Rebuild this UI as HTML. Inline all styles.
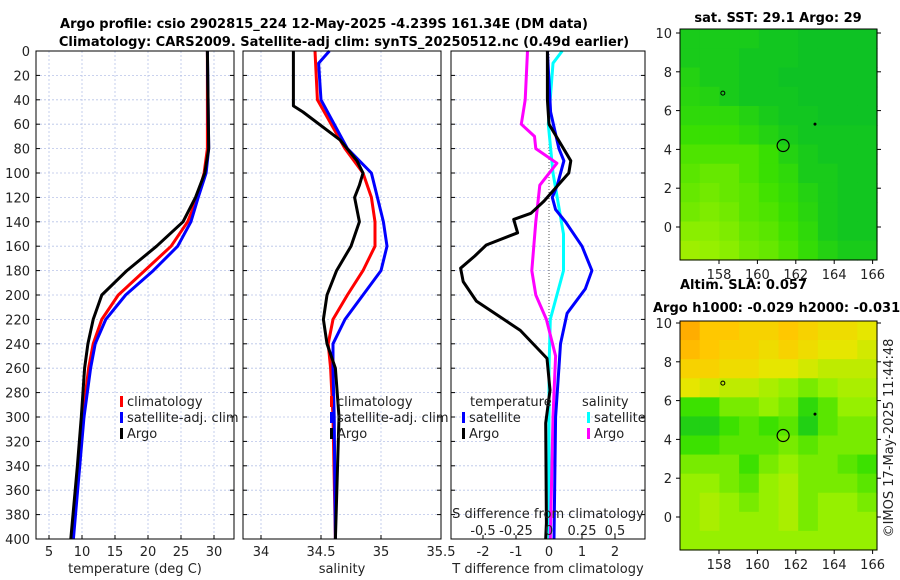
<!DOCTYPE html>
<html><head><meta charset="utf-8"><style>
body{margin:0;background:#fff;}
svg{display:block;font-family:"DejaVu Sans","Liberation Sans",sans-serif;}
</style></head><body>
<svg id="fig" width="900" height="580" viewBox="0 0 900 580" xmlns="http://www.w3.org/2000/svg">
<text x="324" y="28" text-anchor="middle" font-size="13" font-weight="bold">Argo profile: csio 2902815_224 12-May-2025 -4.239S 161.34E (DM data)</text>
<text x="344" y="46" text-anchor="middle" font-size="13" font-weight="bold">Climatology: CARS2009. Satellite-adj clim: synTS_20250512.nc (0.49d earlier)</text>
<text x="778" y="22" text-anchor="middle" font-size="13" font-weight="bold">sat. SST: 29.1 Argo: 29</text>
<text x="680" y="289" font-size="13" font-weight="bold">Altim. SLA: 0.057</text>
<text x="653" y="312" font-size="13" font-weight="bold">Argo h1000: -0.029 h2000: -0.031</text>
<text x="0" y="0" font-size="13" fill="#222" text-anchor="middle" transform="translate(893,438) rotate(-90)">©IMOS 17-May-2025 11:44:48</text>
<g id="layer"></g>
</svg>
<script>
// ---- data ----
const depthTicks = [0,20,40,60,80,100,120,140,160,180,200,220,240,260,280,300,320,340,360,380,400];
const tempTicks = [5,10,15,20,25,30];
const salTicks = [34,34.5,35,35.5];
const tdiffTicks = [-2,-1,0,1,2];
const sdiffTicks = [-0.5,-0.25,0,0.25,0.5];
const sdiffLabels = ["-0.5","-0.25","0","0.25","0.5"];

const climTDepth = [0,80,100,120,140,160,180,200,220,240,260,300,340,400];
const climT      = [29,29,28.5,27.5,26,23.5,19.5,15.5,13,11.7,11,10.1,9.4,8.5];
const satTDepth  = [0,80,100,120,140,160,180,200,220,240,260,300,400];
const satT       = [29,29.2,28.8,27.6,26.5,24.5,20.8,16.6,13.6,12,11.3,10.3,8.7];
const argoTDepth = [0,80,100,120,140,160,180,200,220,240,260,300,340,400];
const argoT      = [29,29.2,28.6,27.2,25.3,21.3,16.8,13,11.7,10.9,10.4,9.9,9.3,8.3];

const climSDepth = [0,40,80,100,120,140,160,180,200,220,240,260,300,400];
const climS      = [34.45,34.47,34.7,34.85,34.92,34.95,34.95,34.85,34.72,34.6,34.56,34.58,34.6,34.62];
const satSDepth  = [0,10,40,80,100,140,160,180,200,220,240,260,300,400];
const satS       = [34.57,34.48,34.5,34.72,34.92,35.02,35.05,35.0,34.85,34.7,34.6,34.6,34.61,34.62];
const argoSDepth = [0,45,50,73,90,100,110,120,140,160,180,200,220,240,260,300,400];
const argoS      = [34.27,34.27,34.35,34.66,34.8,34.85,34.82,34.78,34.82,34.75,34.63,34.55,34.52,34.55,34.62,34.65,34.62];

const dTArgoDepth = [0,40,60,90,100,123,133,138,149,159,168,178,189,205,229,252,278,305,387,400];
const dTArgo      = [-0.05,-0.05,0,0.66,0.6,-0.15,-0.55,-1.07,-0.95,-1.9,-2.25,-2.68,-2.6,-2.2,-0.87,-0.06,0.03,-0.1,-0.08,-0.1];
const dTSatDepth  = [0,50,80,90,110,120,130,140,160,180,195,215,240,260,300,400];
const dTSat       = [-0.05,0.05,0.3,0.45,0.25,0.1,0.2,0.5,1.0,1.3,1.1,0.55,0.35,0.3,0.2,0.15];
const dSArgoDepth = [0,40,60,70,80,92,110,140,180,200,220,250,300,400];
const dSArgo      = [-0.163,-0.18,-0.21,-0.11,-0.1,0.06,-0.07,-0.1,-0.13,-0.1,-0.02,0.05,0.03,0.01];
const dSSatDepth  = [0,10,60,100,150,180,220,260,400];
const dSSat       = [0.1,0.03,-0.005,0.03,0.11,0.11,0.01,0.0,0.0];

const sstGrid = [
[.22,.22,.22,.22,.18,.18,.14,.14,.14,.14],
[.22,.22,.22,.18,.18,.18,.14,.14,.14,.14],
[.26,.22,.22,.18,.18,.14,.14,.14,.14,.14],
[.28,.26,.22,.18,.18,.18,.14,.14,.14,.14],
[.3,.3,.3,.26,.22,.18,.18,.14,.14,.14],
[.34,.34,.34,.3,.26,.22,.18,.18,.18,.18],
[.38,.38,.38,.38,.34,.26,.22,.18,.18,.18],
[.4,.42,.42,.38,.34,.3,.22,.22,.18,.18],
[.42,.44,.42,.4,.36,.32,.26,.22,.18,.18],
[.44,.46,.44,.4,.38,.34,.28,.22,.18,.18],
[.48,.48,.46,.42,.4,.36,.3,.22,.18,.18],
[.52,.5,.48,.44,.42,.38,.32,.26,.22,.22]];
const slaGrid = [
[.95,.85,.85,.8,.8,.85,.8,.75,.75,.7],
[.9,.85,.8,.8,.75,.8,.75,.7,.7,.65],
[.8,.8,.75,.75,.7,.7,.65,.6,.6,.6],
[.7,.65,.6,.6,.55,.5,.45,.5,.55,.55],
[.35,.35,.45,.45,.5,.45,.3,.4,.5,.5],
[.25,.25,.35,.4,.35,.4,.25,.4,.45,.45],
[.35,.35,.4,.4,.4,.45,.4,.45,.45,.45],
[.45,.45,.45,.35,.45,.5,.45,.45,.4,.35],
[.5,.5,.45,.4,.5,.55,.45,.45,.45,.4],
[.5,.55,.5,.45,.5,.55,.45,.5,.5,.45],
[.5,.55,.5,.5,.5,.55,.45,.5,.5,.5],
[.5,.5,.5,.5,.5,.5,.5,.5,.5,.5]];
const lonTicks = [158,160,162,164,166];
const latTicks = [0,2,4,6,8,10];
const argoLon = 161.34, argoLat = 4.2;

// ---- helpers ----
const NS="http://www.w3.org/2000/svg";
const layer=document.getElementById('layer');
function mk(tag,attrs,parent){const e=document.createElementNS(NS,tag);for(const k in attrs)e.setAttribute(k,attrs[k]);(parent||layer).appendChild(e);return e;}
function txt(s,x,y,anchor,size,parent){const t=mk('text',{x:x,y:y,'text-anchor':anchor||'start','font-size':size||13,fill:'#222'},parent);t.textContent=s;return t;}

const Y0=51, YS=1.22;
const yD=d=>Y0+d*YS;
const panels=[
 {name:'temperature-panel',L:36,R:234,x:v=>49+(v-5)*6.6,ticks:tempTicks,lab:tempTicks.map(String),xl:'temperature (deg C)'},
 {name:'salinity-panel',L:243,R:441,x:v=>261+(v-34)*120,ticks:salTicks,lab:["34","34.5","35","35.5"],xl:'salinity'},
 {name:'difference-panel',L:451,R:645,x:v=>549+v*33,ticks:tdiffTicks,lab:tdiffTicks.map(String),xl:'T difference from climatology'}];
const sx=v=>549+v*132;

panels.forEach((p,i)=>{
 const g=mk('g',{});
 
 
 depthTicks.forEach(d=>{
  const l=mk('line',{x1:p.L,x2:p.R,y1:yD(d),y2:yD(d),stroke:'#b8c4e8','stroke-width':0.8,'stroke-dasharray':'2,2'},g);
  
  
  mk('line',{x1:p.L,x2:p.L+4,y1:yD(d),y2:yD(d),stroke:'#000'},g);
  mk('line',{x1:p.R-4,x2:p.R,y1:yD(d),y2:yD(d),stroke:'#000'},g);
  if(i===0){const t=txt(String(d),30,yD(d)+5,'end',13,g);}
 });
 p.ticks.forEach((v,k)=>{
  const X=p.x(v);
  if(i<2){mk('line',{x1:X,x2:X,y1:Y0,y2:yD(400),stroke:'#b8c4e8','stroke-width':0.8,'stroke-dasharray':'2,2'},g);}
  mk('line',{x1:X,x2:X,y1:yD(400)-4,y2:yD(400),stroke:'#000'},g);
  const t=txt(p.lab[k],X,556,'middle',13,g);
  
  
 });
 const xt=txt(p.xl,(p.L+p.R)/2,573,'middle',13,g);
 
 
});
mk('line',{x1:549,x2:549,y1:Y0,y2:yD(400),stroke:'#555','stroke-dasharray':'1,2'});

function series(name,depths,vals,fx,color){
 const pts=depths.map((d,k)=>fx(vals[k]).toFixed(1)+','+yD(d).toFixed(1)).join(' ');
 const e=mk('polyline',{points:pts,fill:'none',stroke:color,'stroke-width':3,'stroke-linejoin':'round'});
 
 
}
const P=panels;
series('temp-climatology-line',climTDepth,climT,P[0].x,'#f00');
series('temp-satellite-line',satTDepth,satT,P[0].x,'#00f');
series('temp-argo-line',argoTDepth,argoT,P[0].x,'#000');
series('sal-climatology-line',climSDepth,climS,P[1].x,'#f00');
series('sal-satellite-line',satSDepth,satS,P[1].x,'#00f');
series('sal-argo-line',argoSDepth,argoS,P[1].x,'#000');
series('sdiff-satellite-line',dSSatDepth,dSSat,sx,'#0ff');
series('sdiff-argo-line',dSArgoDepth,dSArgo,sx,'#f0f');
series('tdiff-satellite-line',dTSatDepth,dTSat,P[2].x,'#00f');
series('tdiff-argo-line',dTArgoDepth,dTArgo,P[2].x,'#000');

P.forEach(p=>{mk('rect',{x:p.L,y:Y0,width:p.R-p.L,height:yD(400)-Y0,fill:'none',stroke:'#000','stroke-width':1});});

const sdt=txt('S difference from climatology',548,518,'middle',13);


sdiffTicks.forEach((v,k)=>{const t=txt(sdiffLabels[k],sx(v),535,'middle',13);});

function legEntry(x,y,color,label){
 const g=mk('g',{});
 
 
 mk('rect',{x:x,y:y-10,width:3,height:11,fill:color},g);
 txt(label,x+7,y,'start',13,g);
}
[[120,'climatology','#f00'],[120,'satellite-adj. clim','#00f'],[120,'Argo','#000']].forEach((e,k)=>legEntry(e[0],406+k*16,e[2],e[1]));
[[330,'climatology','#f00'],[330,'satellite-adj. clim','#00f'],[330,'Argo','#000']].forEach((e,k)=>legEntry(e[0],406+k*16,e[2],e[1]));
const lt=txt('temperature',470,406,'start',13);
const ls=txt('salinity',582,406,'start',13);
legEntry(462,422,'#00f','satellite');legEntry(462,438,'#000','Argo');
legEntry(587,422,'#0ff','satellite');legEntry(587,438,'#f0f','Argo');

function cmap(v){
 const st=[[0,[0,180,50]],[0.2,[20,200,30]],[0.35,[60,225,0]],[0.5,[150,240,0]],[0.7,[230,230,0]],[0.85,[255,200,0]],[1,[255,160,0]]];
 for(let i=1;i<st.length;i++){if(v<=st[i][0]){const a=st[i-1],b=st[i],f=(v-a[0])/(b[0]-a[0]);return 'rgb('+a[1].map((c,j)=>Math.round(c+(b[1][j]-c)*f)).join(',')+')';}}
 return 'rgb(255,160,0)';
}
function drawMap(name,grid,top,lat10y){
 const L=680,R=877;
 const lx=lon=>719+(lon-158)*19.2, ly=lat=>lat10y+(10-lat)*19.4;
 const bottom=ly(-1.7);
 const g=mk('g',{});
 
 
 const rows=grid.length, cols=grid[0].length, cw=(R-L)/cols, ch=(bottom-top)/rows;
 grid.forEach((row,r)=>row.forEach((v,c)=>{
  const e=mk('rect',{x:(L+c*cw).toFixed(2),y:(top+r*ch).toFixed(2),width:(cw+0.6).toFixed(2),height:(ch+0.6).toFixed(2),fill:cmap(v)},g);
  
  
 }));
 mk('rect',{x:L,y:top,width:R-L,height:bottom-top,fill:'none',stroke:'#000'},g);
 lonTicks.forEach(lo=>{mk('line',{x1:lx(lo),x2:lx(lo),y1:bottom,y2:bottom+4,stroke:'#000'},g);const t=txt(String(lo),lx(lo),bottom+19,'middle',13,g);});
 latTicks.forEach(la=>{mk('line',{x1:L-4,x2:L,y1:ly(la),y2:ly(la),stroke:'#000'},g);mk('line',{x1:R,x2:R+4,y1:ly(la),y2:ly(la),stroke:'#000'},g);const t=txt(String(la),672,ly(la)+5,'end',13,g);});
 const c=mk('circle',{cx:lx(argoLon),cy:ly(argoLat),r:6,fill:'none',stroke:'#000','stroke-width':1.2},g);
 
 
 mk('circle',{cx:lx(158.2),cy:ly(6.9),r:2,fill:'none',stroke:'#000'},g);
 mk('circle',{cx:lx(163),cy:ly(5.3),r:1.5,fill:'#000'},g);
}
drawMap('sst-map',sstGrid,29,33);
drawMap('sla-map',slaGrid,321,323);
</script>
</body></html>
